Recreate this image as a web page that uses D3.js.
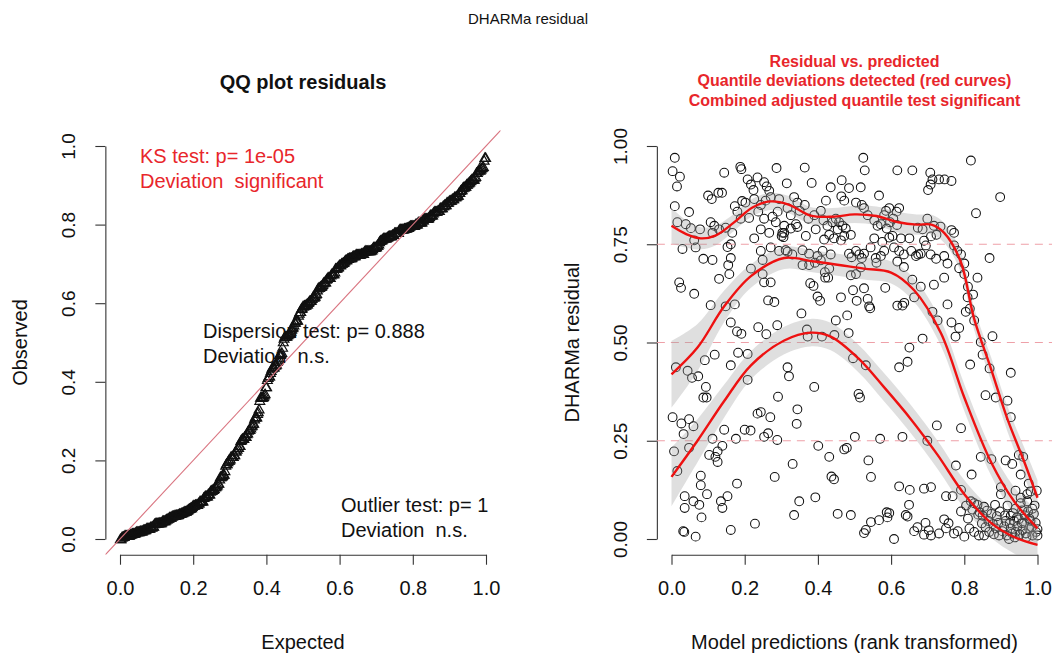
<!DOCTYPE html>
<html>
<head>
<meta charset="utf-8">
<script src="https://cdn.jsdelivr.net/npm/d3@7"></script>
<style>
  html, body { margin: 0; padding: 0; background: #fff; }
  svg { display: block; }
  text { font-family: "Liberation Sans", Arial, Helvetica, sans-serif; fill: #111; white-space: pre; }
</style>
</head>
<body>
<svg id="chart" width="1057" height="657"></svg>
<script>
// ---- data -------------------------------------------------------------
// scaled residuals against rank-transformed model predictions
const residualPoints = [
  [0.009,0.970],[0.003,0.936],[0.023,0.922],[0.015,0.897],[0.009,0.847],[0.016,0.806],[0.048,0.832],[0.039,0.801],
  [0.053,0.791],[0.062,0.760],[0.030,0.738],[0.066,0.742],[0.021,0.653],[0.026,0.639],[0.062,0.624],[0.087,0.713],
  [0.078,0.788],[0.012,0.437],[0.044,0.428],[0.056,0.410],[0.073,0.414],[0.091,0.455],[0.094,0.387],[0.087,0.360],
  [0.096,0.360],[0.003,0.310],[0.027,0.294],[0.048,0.305],[0.060,0.287],[0.033,0.267],[0.048,0.232],[0.007,0.223],
  [0.016,0.173],[0.036,0.109],[0.036,0.079],[0.060,0.096],[0.076,0.087],[0.080,0.161],[0.080,0.137],[0.097,0.114],
  [0.082,0.055],[0.035,0.018],[0.032,0.020],[0.066,0.006],
  [0.100,0.874],[0.110,0.865],[0.128,0.881],[0.138,0.881],[0.144,0.932],[0.107,0.806],[0.117,0.797],[0.112,0.779],
  [0.130,0.788],[0.148,0.792],[0.153,0.743],[0.162,0.750],[0.166,0.779],[0.112,0.710],[0.130,0.662],[0.155,0.697],
  [0.162,0.715],[0.158,0.674],[0.107,0.595],[0.148,0.592],[0.173,0.597],[0.162,0.551],[0.179,0.528],[0.191,0.522],
  [0.118,0.469],[0.162,0.442],[0.182,0.474],[0.208,0.471],[0.208,0.405],[0.112,0.255],[0.126,0.223],[0.139,0.237],
  [0.144,0.278],[0.120,0.209],[0.126,0.196],[0.135,0.096],[0.139,0.079],[0.153,0.109],[0.176,0.255],[0.179,0.141],
  [0.162,0.023],[0.103,0.214],
  [0.188,0.947],[0.191,0.941],[0.208,0.915],[0.217,0.902],[0.224,0.888],[0.235,0.920],[0.253,0.908],[0.260,0.897],
  [0.287,0.944],[0.267,0.886],[0.193,0.860],[0.202,0.856],[0.173,0.847],[0.180,0.833],[0.189,0.815],[0.212,0.817],
  [0.226,0.865],[0.244,0.850],[0.257,0.861],[0.271,0.870],[0.294,0.865],[0.237,0.833],[0.253,0.815],[0.276,0.820],
  [0.290,0.833],[0.285,0.806],[0.244,0.788],[0.226,0.765],[0.267,0.779],[0.303,0.779],[0.301,0.771],[0.217,0.688],
  [0.244,0.733],[0.249,0.710],[0.271,0.742],[0.294,0.733],[0.249,0.674],[0.253,0.653],[0.271,0.653],[0.264,0.607],
  [0.281,0.603],[0.237,0.539],[0.259,0.521],[0.289,0.544],[0.317,0.437],[0.321,0.414],[0.291,0.362],[0.235,0.319],
  [0.244,0.323],[0.270,0.310],[0.200,0.278],[0.216,0.276],[0.253,0.260],[0.264,0.269],[0.289,0.252],[0.282,0.158],
  [0.228,0.039],
  [0.315,0.905],[0.364,0.945],[0.383,0.906],[0.335,0.870],[0.344,0.856],[0.364,0.850],[0.317,0.842],[0.326,0.824],
  [0.350,0.835],[0.374,0.815],[0.390,0.824],[0.308,0.797],[0.326,0.790],[0.340,0.801],[0.344,0.794],[0.367,0.771],
  [0.394,0.788],[0.308,0.779],[0.306,0.768],[0.312,0.735],[0.317,0.731],[0.330,0.724],[0.358,0.735],[0.376,0.726],
  [0.358,0.697],[0.376,0.697],[0.392,0.703],[0.399,0.720],[0.379,0.651],[0.388,0.644],[0.399,0.617],[0.406,0.606],
  [0.355,0.574],[0.370,0.533],[0.372,0.515],[0.411,0.515],[0.390,0.387],[0.344,0.330],[0.342,0.293],[0.331,0.191],
  [0.349,0.096],[0.335,0.061],[0.393,0.106],
  [0.435,0.895],[0.465,0.913],[0.485,0.893],[0.422,0.861],[0.464,0.872],[0.472,0.861],[0.408,0.835],[0.415,0.811],
  [0.426,0.797],[0.440,0.806],[0.449,0.815],[0.458,0.806],[0.467,0.797],[0.454,0.788],[0.476,0.790],[0.490,0.774],
  [0.431,0.774],[0.417,0.762],[0.444,0.765],[0.463,0.760],[0.472,0.771],[0.413,0.733],[0.435,0.724],[0.408,0.709],
  [0.431,0.688],[0.419,0.679],[0.420,0.665],[0.428,0.665],[0.485,0.726],[0.492,0.717],[0.490,0.671],[0.496,0.633],
  [0.463,0.615],[0.480,0.569],[0.449,0.556],[0.445,0.519],[0.484,0.524],[0.496,0.460],[0.401,0.237],[0.431,0.209],
  [0.472,0.228],[0.479,0.232],[0.437,0.159],[0.444,0.152],[0.454,0.064],[0.490,0.061],
  [0.524,0.970],[0.528,0.938],[0.517,0.895],[0.504,0.856],[0.520,0.850],[0.526,0.842],[0.567,0.874],[0.536,0.824],
  [0.554,0.811],[0.563,0.797],[0.572,0.801],[0.581,0.824],[0.586,0.835],[0.595,0.842],[0.588,0.790],[0.597,0.806],
  [0.554,0.765],[0.576,0.756],[0.595,0.767],[0.504,0.733],[0.513,0.724],[0.520,0.715],[0.526,0.726],[0.544,0.742],
  [0.558,0.715],[0.572,0.720],[0.581,0.733],[0.560,0.703],[0.517,0.691],[0.504,0.674],[0.584,0.639],[0.526,0.638],
  [0.536,0.611],[0.540,0.592],[0.543,0.587],[0.506,0.606],[0.531,0.442],[0.511,0.369],[0.515,0.360],[0.501,0.260],
  [0.570,0.255],[0.538,0.200],[0.545,0.158],[0.526,0.015],[0.531,0.023],[0.545,0.043],[0.567,0.048],[0.590,0.055],
  [0.595,0.066],[0.608,0.000],
  [0.617,0.938],[0.658,0.938],[0.615,0.833],[0.622,0.842],[0.606,0.815],[0.616,0.799],[0.604,0.771],[0.627,0.765],
  [0.650,0.765],[0.673,0.792],[0.686,0.788],[0.690,0.759],[0.608,0.742],[0.622,0.733],[0.635,0.724],[0.655,0.733],
  [0.668,0.720],[0.674,0.724],[0.681,0.726],[0.617,0.706],[0.635,0.692],[0.658,0.660],[0.681,0.642],[0.617,0.594],
  [0.631,0.594],[0.636,0.601],[0.663,0.615],[0.686,0.510],[0.650,0.487],[0.622,0.437],[0.645,0.451],[0.631,0.260],
  [0.699,0.250],[0.622,0.134],[0.651,0.125],[0.649,0.087],[0.640,0.061],[0.645,0.057],[0.690,0.128],[0.709,0.132],
  [0.672,0.030],[0.694,0.041],[0.690,0.011],[0.709,0.009],[0.588,0.068],[0.663,0.020],
  [0.707,0.932],[0.701,0.888],[0.708,0.902],[0.713,0.915],[0.731,0.915],[0.746,0.915],[0.765,0.911],[0.699,0.815],
  [0.717,0.797],[0.735,0.795],[0.765,0.786],[0.772,0.779],[0.709,0.770],[0.724,0.774],[0.695,0.747],[0.708,0.724],
  [0.723,0.713],[0.745,0.720],[0.754,0.701],[0.772,0.747],[0.781,0.733],[0.791,0.724],[0.800,0.701],[0.786,0.689],
  [0.800,0.674],[0.717,0.647],[0.745,0.665],[0.754,0.597],[0.713,0.578],[0.727,0.556],[0.765,0.551],[0.786,0.537],
  [0.776,0.515],[0.804,0.578],[0.809,0.615],[0.725,0.289],[0.777,0.187],[0.791,0.282],[0.768,0.109],[0.791,0.125],
  [0.745,0.050],[0.750,0.027],[0.731,0.014],[0.772,0.014],[0.800,0.006],[0.791,0.070],[0.750,0.109],
  [0.703,0.022],[0.757,0.040],[0.782,0.020],
  [0.818,0.963],[0.898,0.870],[0.832,0.829],[0.869,0.715],[0.836,0.665],[0.810,0.642],[0.824,0.622],[0.815,0.586],
  [0.827,0.556],[0.845,0.501],[0.850,0.469],[0.877,0.516],[0.816,0.444],[0.869,0.434],[0.858,0.366],[0.886,0.360],
  [0.918,0.352],[0.845,0.209],[0.874,0.203],[0.820,0.164],[0.818,0.096],[0.827,0.091],[0.836,0.087],[0.854,0.082],
  [0.842,0.068],[0.874,0.064],[0.850,0.059],[0.810,0.052],[0.893,0.041],[0.884,0.087],[0.900,0.132],[0.900,0.114],
  [0.827,0.018],[0.840,0.009],[0.854,0.009],[0.868,0.018],[0.886,0.027],[0.895,0.009],[0.814,0.027],
  [0.805,0.085],[0.822,0.075],[0.838,0.062],[0.848,0.040],[0.862,0.072],[0.866,0.046],[0.878,0.038],[0.889,0.058],
  [0.897,0.070],[0.881,0.012],[0.858,0.030],
  [0.927,0.423],[0.927,0.310],[0.913,0.200],[0.931,0.191],[0.949,0.214],[0.961,0.209],[0.954,0.164],[0.940,0.123],
  [0.954,0.105],[0.972,0.114],[0.981,0.121],[0.998,0.123],[0.972,0.096],[0.954,0.091],[0.940,0.077],[0.958,0.073],
  [0.974,0.070],[0.986,0.077],[0.990,0.064],[0.927,0.059],[0.913,0.046],[0.936,0.046],[0.949,0.050],[0.963,0.041],
  [0.981,0.046],[0.995,0.041],[0.909,0.032],[0.927,0.027],[0.945,0.032],[0.959,0.023],[0.977,0.027],[1.000,0.025],
  [0.916,0.009],[0.931,0.014],[0.968,0.014],[0.986,0.009],[1.000,0.009],[0.922,0.000],[0.940,0.018],
  [0.904,0.020],[0.911,0.060],[0.918,0.085],[0.924,0.040],[0.933,0.066],[0.938,0.004],[0.944,0.055],[0.951,0.012],
  [0.957,0.040],[0.965,0.060],[0.970,0.005],[0.978,0.052],[0.984,0.030],[0.992,0.085],[0.996,0.018],[0.976,0.141]
];

// fitted quantile splines (0.25, 0.5, 0.75) with their confidence half-widths
const q75X  = [0, 0.04, 0.08, 0.12, 0.17, 0.22, 0.27, 0.32, 0.38, 0.44, 0.5, 0.56, 0.62, 0.67, 0.71, 0.745, 0.79, 0.827, 0.873, 0.918, 0.964, 1.0];
const q75Y  = [0.797, 0.776, 0.765, 0.772, 0.805, 0.843, 0.859, 0.851, 0.823, 0.82, 0.826, 0.822, 0.806, 0.80, 0.80, 0.779, 0.706, 0.56, 0.433, 0.305, 0.196, 0.105];
const q75CI = [0.045, 0.035, 0.028, 0.025, 0.022, 0.022, 0.022, 0.022, 0.022, 0.022, 0.022, 0.024, 0.026, 0.026, 0.025, 0.025, 0.026, 0.028, 0.03, 0.032, 0.036, 0.045];

const q50X  = [0, 0.071, 0.144, 0.217, 0.308, 0.39, 0.525, 0.6, 0.663, 0.736, 0.8, 0.873, 0.936, 1.0];
const q50Y  = [0.419, 0.487, 0.592, 0.669, 0.715, 0.706, 0.688, 0.678, 0.633, 0.524, 0.36, 0.196, 0.096, 0.027];
const q50CI = [0.085, 0.06, 0.04, 0.03, 0.028, 0.028, 0.028, 0.028, 0.03, 0.032, 0.034, 0.034, 0.036, 0.045];

const q25X  = [0, 0.071, 0.144, 0.217, 0.308, 0.38, 0.435, 0.51, 0.58, 0.654, 0.727, 0.8, 0.873, 0.936, 1.0];
const q25Y  = [0.158, 0.25, 0.351, 0.442, 0.505, 0.525, 0.515, 0.46, 0.387, 0.305, 0.214, 0.114, 0.041, 0.005, -0.015];
const q25CI = [0.075, 0.055, 0.042, 0.036, 0.035, 0.035, 0.035, 0.035, 0.036, 0.036, 0.036, 0.036, 0.038, 0.042, 0.05];

const quantileLevels = [0.25, 0.5, 0.75];

const qqTicks    = [0, 0.2, 0.4, 0.6, 0.8, 1.0];
const residXTicks = [0, 0.2, 0.4, 0.6, 0.8, 1.0];
const residYTicks = [0, 0.25, 0.5, 0.75, 1.0];

const ksLines         = ["KS test: p= 1e-05", "Deviation  significant"];
const dispersionLines = ["Dispersion test: p= 0.888", "Deviation  n.s."];
const outlierLines    = ["Outlier test: p= 1", "Deviation  n.s."];
const residTitleLines = ["Residual vs. predicted", "Quantile deviations detected (red curves)", "Combined adjusted quantile test significant"];

// ---- layout -------------------------------------------------------------
const svg = d3.select("#chart");
const RED = "#e8262b";
const AXIS_COL = "#333";

// both panels extend their data range by 4% on each side
const xQQ  = d3.scaleLinear().domain([-0.04, 1.04]).range([105.36, 500.64]);
const xRes = d3.scaleLinear().domain([-0.04, 1.04]).range([656.86, 1052.14]);
const yAll = d3.scaleLinear().domain([-0.04, 1.04]).range([554.72, 130.28]);

svg.append("text")
  .attr("x", 528).attr("y", 23.5)
  .attr("text-anchor", "middle")
  .style("font-size", "15px")
  .text("DHARMa residual");

function drawAxes(xs, xTicks, yTicks, fmtX, fmtY) {
  const [x0] = xs.range();
  const [y0] = yAll.range();
  const xAxisScale = d3.scaleLinear().domain([0, 1]).range([xs(0), xs(1)]);
  const yAxisScale = d3.scaleLinear().domain([0, 1]).range([yAll(0), yAll(1)]);

  const gx = svg.append("g")
    .attr("transform", `translate(0,${y0})`)
    .call(d3.axisBottom(xAxisScale).tickValues(xTicks).tickFormat(fmtX)
      .tickSize(10).tickSizeOuter(0).tickPadding(16));
  gx.selectAll("path, line").attr("stroke", AXIS_COL).attr("stroke-width", 1.1);
  gx.selectAll("text").style("font-size", "20px").attr("fill", "#111");

  const gy = svg.append("g")
    .attr("transform", `translate(${x0},0)`)
    .call(d3.axisLeft(yAxisScale).tickValues(yTicks).tickFormat(fmtY)
      .tickSize(10).tickSizeOuter(0));
  gy.selectAll("path, line").attr("stroke", AXIS_COL).attr("stroke-width", 1.1);
  gy.selectAll("text")
    .style("font-size", "19px").attr("fill", "#111")
    .attr("x", null).attr("dy", null)
    .attr("text-anchor", "middle")
    .attr("transform", "translate(-30,0) rotate(-90)");
}

// ---- left panel: QQ plot of residuals -------------------------------------
svg.append("text")
  .attr("x", xQQ(0.5)).attr("y", 89)
  .attr("text-anchor", "middle")
  .style("font-size", "20px").style("font-weight", "bold")
  .text("QQ plot residuals");

drawAxes(xQQ, qqTicks, qqTicks, d3.format(".1f"), d3.format(".1f"));

const observed = residualPoints.map(d => d[1]).sort(d3.ascending);
const n = observed.length;
const qqData = observed.map((v, i) => ({ expected: (i + 0.5) / n, observed: v }));

svg.append("clipPath").attr("id", "qqClip")
  .append("rect")
  .attr("x", xQQ(-0.04)).attr("y", yAll(1.04))
  .attr("width", xQQ(1.04) - xQQ(-0.04)).attr("height", yAll(-0.04) - yAll(1.04));

const tri = d3.symbol().type(d3.symbolTriangle).size(42);
svg.append("g").selectAll("path")
  .data(qqData).join("path")
  .attr("d", tri)
  .attr("transform", d => `translate(${xQQ(d.expected)},${yAll(d.observed) + 0.8})`)
  .attr("fill", "none").attr("stroke", "#111").attr("stroke-width", 1.2);

// identity reference line across the whole plotting region
svg.append("line")
  .attr("clip-path", "url(#qqClip)")
  .attr("x1", xQQ(-0.04)).attr("y1", yAll(-0.04))
  .attr("x2", xQQ(1.04)).attr("y2", yAll(1.04))
  .attr("stroke", "#d9737f").attr("stroke-width", 1.1);

function textBlock(lines, x, y, color) {
  svg.append("g").selectAll("text").data(lines).join("text")
    .attr("x", x).attr("y", (d, i) => y + i * 24.5)
    .style("font-size", "20px")
    .style("fill", color)
    .text(d => d);
}
textBlock(ksLines, 140, 163, RED);
textBlock(dispersionLines, 203, 338, "#111");
textBlock(outlierLines, 341, 512, "#111");

svg.append("text")
  .attr("x", xQQ(0.5)).attr("y", 649)
  .attr("text-anchor", "middle").style("font-size", "20px")
  .text("Expected");
svg.append("text")
  .attr("transform", `translate(27,${yAll(0.5)}) rotate(-90)`)
  .attr("text-anchor", "middle").style("font-size", "20px")
  .text("Observed");

// ---- right panel: residuals vs. predicted ---------------------------------
svg.append("g").selectAll("text").data(residTitleLines).join("text")
  .attr("x", xRes(0.5)).attr("y", (d, i) => 66.5 + i * 19.7)
  .attr("text-anchor", "middle")
  .style("font-size", "16px").style("font-weight", "bold").style("fill", RED)
  .text(d => d);

drawAxes(xRes, residXTicks, residYTicks, d3.format(".1f"), d3.format(".2f"));

svg.append("clipPath").attr("id", "resClip")
  .append("rect")
  .attr("x", xRes(-0.04)).attr("y", yAll(1.04))
  .attr("width", xRes(1.04) - xRes(-0.04)).attr("height", yAll(-0.04) - yAll(1.04));

const plotArea = svg.append("g").attr("clip-path", "url(#resClip)");

plotArea.append("g").selectAll("circle")
  .data(residualPoints).join("circle")
  .attr("cx", d => xRes(d[0])).attr("cy", d => yAll(d[1]))
  .attr("r", 4.4)
  .attr("fill", "none").attr("stroke", "#111").attr("stroke-width", 1.05);

plotArea.append("g").selectAll("line")
  .data(quantileLevels).join("line")
  .attr("x1", xRes(-0.04)).attr("x2", xRes(1.04))
  .attr("y1", d => yAll(d)).attr("y2", d => yAll(d))
  .attr("stroke", "#eea0a8").attr("stroke-width", 1.1)
  .attr("stroke-dasharray", "8,6");

const fits = [
  { xs: q25X, ys: q25Y, ci: q25CI },
  { xs: q50X, ys: q50Y, ci: q50CI },
  { xs: q75X, ys: q75Y, ci: q75CI }
].map(f => f.xs.map((x, i) => ({ x, y: f.ys[i], lo: f.ys[i] - f.ci[i], hi: f.ys[i] + f.ci[i] })));

const band = d3.area()
  .x(d => xRes(d.x)).y0(d => yAll(d.lo)).y1(d => yAll(d.hi))
  .curve(d3.curveCatmullRom.alpha(0.5));
const fitLine = d3.line()
  .x(d => xRes(d.x)).y(d => yAll(d.y))
  .curve(d3.curveCatmullRom.alpha(0.5));

plotArea.append("g").selectAll("path")
  .data(fits).join("path")
  .attr("d", band)
  .attr("fill", "#9e9e9e").attr("fill-opacity", 0.33).attr("stroke", "none");

plotArea.append("g").selectAll("path")
  .data(fits).join("path")
  .attr("d", fitLine)
  .attr("fill", "none").attr("stroke", "#ee1111").attr("stroke-width", 2.4);

svg.append("text")
  .attr("x", xRes(0.5)).attr("y", 649)
  .attr("text-anchor", "middle").style("font-size", "20px")
  .text("Model predictions (rank transformed)");
svg.append("text")
  .attr("transform", `translate(579,${yAll(0.5)}) rotate(-90)`)
  .attr("text-anchor", "middle").style("font-size", "20px")
  .text("DHARMa residual");
</script>
</body>
</html>
